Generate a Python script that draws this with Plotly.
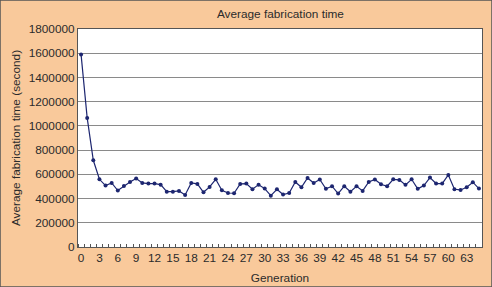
import plotly.graph_objects as go

generations = list(range(66))
avg_time = [1590000, 1066000, 716000, 559000, 507000, 529000, 466000, 504000, 537000, 565000,
            529000, 524000, 524000, 515000, 457000, 457000, 463000, 430000, 529000, 521000,
            452000, 496000, 559000, 468000, 446000, 444000, 521000, 524000, 477000, 515000,
            482000, 424000, 477000, 433000, 446000, 537000, 493000, 570000, 529000, 557000,
            480000, 502000, 441000, 502000, 457000, 502000, 463000, 537000, 557000, 518000,
            502000, 559000, 554000, 513000, 559000, 480000, 507000, 573000, 524000, 524000,
            595000, 477000, 471000, 493000, 535000, 482000]
x_ticks = list(range(0, 64, 3))
y_ticks = list(range(0, 1800001, 200000))

navy = "#1d2670"
bg = "#f9c99b"
font = "Liberation Sans, Arial, sans-serif"

fig = go.Figure(go.Scatter(
    x=generations, y=avg_time, mode="lines+markers",
    line=dict(color=navy, width=1.2),
    marker=dict(color=navy, size=4, symbol="circle"),
))

fig.update_layout(
    width=492, height=287,
    margin=dict(l=78, r=10, t=29, b=40, autoexpand=False),
    paper_bgcolor=bg, plot_bgcolor="white",
    showlegend=False,
    font=dict(family=font, size=11.8, color="#2b2b2b"),
    title=dict(text="Average fabrication time", x=0.57, xanchor="center",
               y=0.95, yanchor="middle", font=dict(size=11.8, color="#2b2b2b")),
)
fig.update_xaxes(
    range=[-0.5, 65.5], tickvals=x_ticks, ticktext=[str(v) for v in x_ticks],
    ticks="", showgrid=False, zeroline=False, automargin=False,
    showline=True, linecolor="#555555", linewidth=1, mirror=True,
    minor=dict(ticks="inside", ticklen=3, tick0=-0.5, dtick=1, tickcolor="#555555", showgrid=False),
    title=dict(text="Generation", standoff=9, font=dict(size=11.8)),
    tickfont=dict(size=11.8), fixedrange=True,
)
fig.update_yaxes(
    range=[0, 1800000], tickvals=y_ticks, ticktext=[str(v) for v in y_ticks],
    showgrid=True, gridcolor="#8a8a8a", gridwidth=1, zeroline=False, automargin=False,
    showline=True, linecolor="#555555", linewidth=1, mirror=True,
    ticks="", ticklen=3,
    title=dict(text="Average fabrication time (second)", standoff=5, font=dict(size=11.8)),
    tickfont=dict(size=11.8), fixedrange=True,
)
fig.add_shape(type="rect", xref="paper", yref="paper", x0=-78/404, x1=1+10/404,
              y0=-40/218, y1=1+29/218, line=dict(color="#555555", width=1.5))

fig.write_html("out.html")
